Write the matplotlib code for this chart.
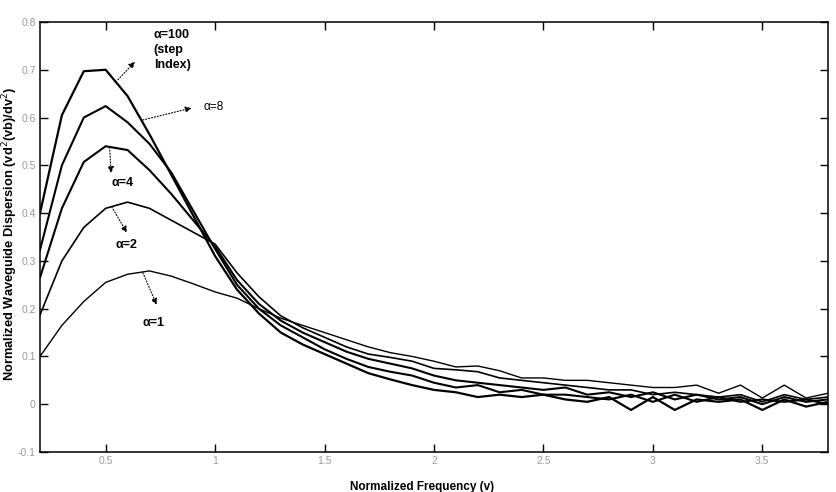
import matplotlib
matplotlib.use("Agg")
import matplotlib.pyplot as plt
import numpy as np

plt.rcParams['font.family'] = ['Liberation Sans', 'DejaVu Sans']

v = [0.2, 0.3, 0.4, 0.5, 0.6, 0.7, 0.8, 0.9, 1.0, 1.1, 1.2, 1.3, 1.4, 1.5, 1.6, 1.7, 1.8,
     1.9, 2.0, 2.1, 2.2, 2.3, 2.4, 2.5, 2.6, 2.7, 2.8, 2.9, 3.0, 3.1, 3.2, 3.3, 3.4, 3.5, 3.6, 3.7, 3.8]

d_a100 = [0.40, 0.605, 0.697, 0.70, 0.645, 0.565, 0.48, 0.395, 0.31, 0.24, 0.19, 0.15, 0.125, 0.105, 0.085, 0.065, 0.052,
          0.04, 0.03, 0.025, 0.015, 0.02, 0.015, 0.02, 0.01, 0.005, 0.015, -0.012, 0.015, -0.012, 0.01, 0.005, 0.01, -0.012, 0.01, -0.005, 0.005]
d_a8 = [0.323, 0.50, 0.60, 0.624, 0.59, 0.545, 0.485, 0.405, 0.325, 0.25, 0.20, 0.165, 0.14, 0.115, 0.095, 0.078, 0.068,
        0.06, 0.045, 0.035, 0.04, 0.025, 0.03, 0.02, 0.02, 0.015, 0.01, 0.02, 0.005, 0.02, 0.005, 0.015, 0.005, 0.01, 0.005, 0.01, 0.0]
d_a4 = [0.265, 0.41, 0.507, 0.54, 0.532, 0.49, 0.44, 0.385, 0.33, 0.26, 0.21, 0.175, 0.15, 0.13, 0.11, 0.095, 0.085,
        0.075, 0.06, 0.05, 0.045, 0.04, 0.035, 0.03, 0.035, 0.02, 0.025, 0.015, 0.025, 0.01, 0.02, 0.01, 0.015, 0.0, 0.015, 0.005, 0.01]
d_a2 = [0.187, 0.30, 0.37, 0.41, 0.423, 0.41, 0.385, 0.36, 0.335, 0.275, 0.225, 0.185, 0.16, 0.14, 0.12, 0.105, 0.098,
        0.09, 0.075, 0.072, 0.068, 0.055, 0.05, 0.045, 0.04, 0.035, 0.03, 0.03, 0.02, 0.025, 0.02, 0.015, 0.02, 0.005, 0.02, 0.01, 0.015]
d_a1 = [0.10, 0.165, 0.215, 0.255, 0.272, 0.279, 0.268, 0.252, 0.235, 0.222, 0.20, 0.18, 0.165, 0.15, 0.135, 0.12, 0.108,
        0.10, 0.09, 0.078, 0.08, 0.07, 0.055, 0.055, 0.05, 0.05, 0.045, 0.04, 0.035, 0.035, 0.04, 0.023, 0.04, 0.013, 0.04, 0.013, 0.023]

xticks = [0.5, 1, 1.5, 2, 2.5, 3, 3.5]
xticklabels = ['0.5', '1', '1.5', '2', '2.5', '3', '3.5']
yticks = [-0.1, 0, 0.1, 0.2, 0.3, 0.4, 0.5, 0.6, 0.7, 0.8]
yticklabels = ['-0.1', '0', '0.1', '0.2', '0.3', '0.4', '0.5', '0.6', '0.7', '0.8']

fig = plt.figure(figsize=(8.37, 4.92), dpi=100)
ax = fig.add_axes([40/837, 1-452/492, (828-40)/837, (452-22)/492])

ax.plot(v, d_a100, color='black', lw=1.6)
ax.plot(v, d_a8, color='black', lw=1.5)
ax.plot(v, d_a4, color='black', lw=1.5)
ax.plot(v, d_a2, color='black', lw=1.2)
ax.plot(v, d_a1, color='black', lw=1.0)

ax.set_xlim(0.2, 3.8)
ax.set_ylim(-0.1, 0.8)
ax.set_xticks(xticks)
ax.set_xticklabels(xticklabels)
ax.set_yticks(yticks)
ax.set_yticklabels(yticklabels)
ax.tick_params(direction='in', length=6, width=1, top=True, right=True,
               labelsize=7.5, labelcolor='#9a9a9a', pad=3)
for s in ax.spines.values():
    s.set_linewidth(1.1)

ax.set_xlabel('Normalized Frequency (v)', fontsize=8.5, fontweight='bold')
ax.xaxis.set_label_coords(0.485, -0.068)
ax.set_ylabel('Normalized Waveguide Dispersion (vd$^2$(vb)/dv$^2$)', fontsize=9.3,
              fontweight='bold')
ax.yaxis.set_label_coords(-0.025, 0.507)

aprops = dict(arrowstyle='-|>', linestyle=':', color='black', lw=0.8,
              mutation_scale=9, shrinkA=0, shrinkB=0)

ax.annotate('', xy=(0.634, 0.717), xytext=(0.556, 0.679), arrowprops=aprops)
ax.text(0.72, 0.785, '\u03b1=100\n(step\nIndex)', fontsize=9, fontweight='bold',
        va='top', ha='left', linespacing=1.3)

ax.annotate('', xy=(0.893, 0.62), xytext=(0.67, 0.595), arrowprops=aprops)
ax.text(0.945, 0.622, '\u03b1=8', fontsize=8.5, va='center', ha='left')

ax.annotate('', xy=(0.525, 0.484), xytext=(0.518, 0.538), arrowprops=aprops)
ax.text(0.578, 0.463, '\u03b1=4', fontsize=9, fontweight='bold', va='center', ha='center')

ax.annotate('', xy=(0.597, 0.359), xytext=(0.528, 0.413), arrowprops=aprops)
ax.text(0.597, 0.333, '\u03b1=2', fontsize=9, fontweight='bold', va='center', ha='center')

ax.annotate('', xy=(0.733, 0.208), xytext=(0.67, 0.275), arrowprops=aprops)
ax.text(0.72, 0.17, '\u03b1=1', fontsize=9, fontweight='bold', va='center', ha='center')

fig.savefig('out.png', dpi=100)
